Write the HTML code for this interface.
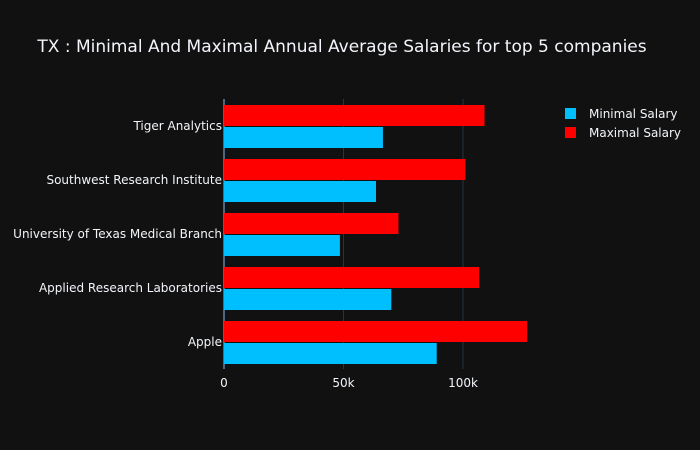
<!DOCTYPE html>
<html><head><meta charset="utf-8"><style>
html,body{margin:0;padding:0;background:#111111;}
svg{display:block;font-family:"DejaVu Sans","Liberation Sans",sans-serif;}
</style></head><body>
<svg id="chart" width="700" height="450">
<rect width="700" height="450" fill="#111111"/>
<text x="342" y="52" text-anchor="middle" font-size="17" fill="#f2f5fa">TX : Minimal And Maximal Annual Average Salaries for top 5 companies</text>
<g id="grid"></g><g id="bars"></g><g id="yticks"></g><g id="xticks"></g>
<g>
<g><rect x="565" y="108" width="11" height="11" fill="#00bfff"/><text x="589" y="118" font-size="12" fill="#f2f5fa">Minimal Salary</text></g>
<g><rect x="565" y="127" width="11" height="11" fill="#ff0000"/><text x="589" y="137" font-size="12" fill="#f2f5fa">Maximal Salary</text></g>
</g>
</svg>
<script>
const categories=["Tiger Analytics","Southwest Research Institute","University of Texas Medical Branch","Applied Research Laboratories","Apple"];
const minSalary=[66.5,63.6,48.5,70,89];
const maxSalary=[109,101,73,106.7,126.8];
const xTicks=[0,50,100];
const xTickLabels=["0","50k","100k"];
const NS="http://www.w3.org/2000/svg";
const x0=224,pxPerK=2.39,plotTop=99,band=54,barH=21;
const xs=v=>x0+v*pxPerK;
const yc=i=>plotTop+band*i+band/2;
function mk(t,a,p){const e=document.createElementNS(NS,t);for(const k in a)e.setAttribute(k,a[k]);p.appendChild(e);return e;}
const grid=document.getElementById('grid'),bars=document.getElementById('bars'),yt=document.getElementById('yticks'),xt=document.getElementById('xticks');
xTicks.forEach((v,i)=>{
 const l=mk('line',{x1:xs(v),x2:xs(v),y1:plotTop,y2:plotTop+band*categories.length,stroke:v===0?'#506784':'#283442','stroke-width':v===0?2:1},grid);
 
 
 const t=mk('text',{x:xs(v),y:plotTop+band*categories.length+18,'text-anchor':'middle','font-size':12,fill:'#f2f5fa'},xt);
 t.textContent=xTickLabels[i];
 
 
});
categories.forEach((c,i)=>{
 const c0=yc(i);
 const r1=mk('rect',{x:x0,y:c0-barH,width:xs(maxSalary[i])-x0,height:barH,fill:'#ff0000'},bars);
 
 
 const r2=mk('rect',{x:x0,y:c0+1,width:xs(minSalary[i])-x0,height:barH,fill:'#00bfff'},bars);
 
 
 const t=mk('text',{x:222,y:c0+4,'text-anchor':'end','font-size':12,fill:'#f2f5fa'},yt);
 t.textContent=c;
 
 
});
</script>
</body></html>
